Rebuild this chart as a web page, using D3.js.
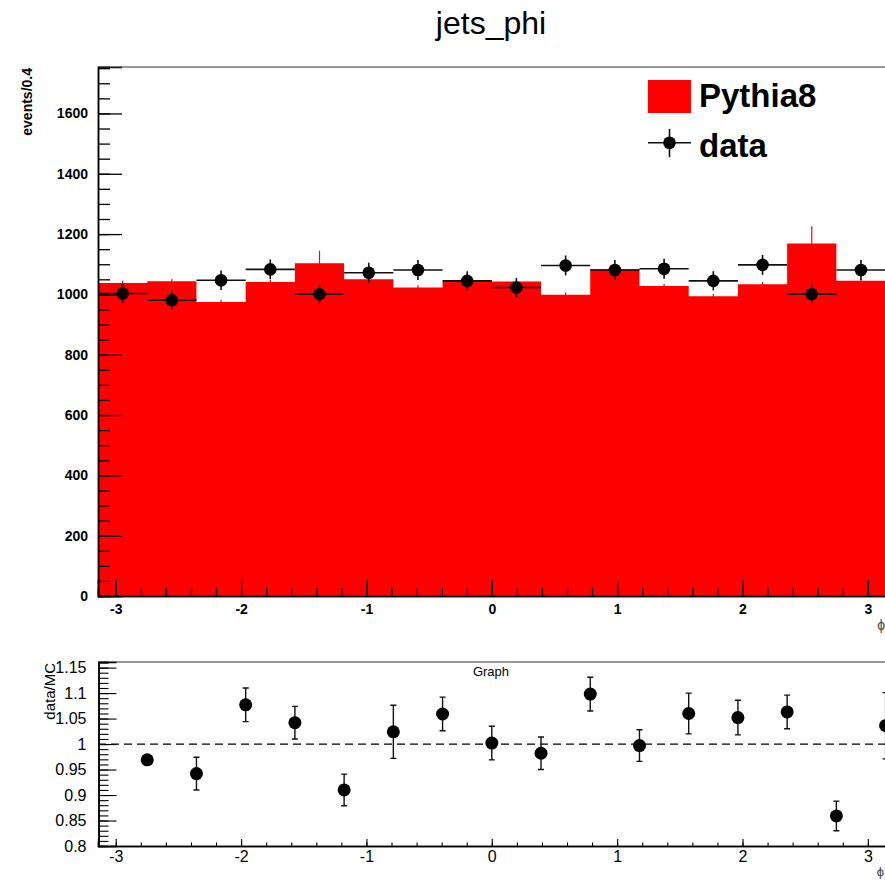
<!DOCTYPE html>
<html>
<head>
<meta charset="utf-8">
<script src="https://cdn.jsdelivr.net/npm/d3@7"></script>
<style>
  body { margin: 0; background: #fff; }
  text { font-family: "Liberation Sans", Arial, sans-serif; }
</style>
</head>
<body>
<div id="chart"></div>
<script>
// histogram binning: 16 bins over [-pi, pi]
const binLow = -Math.PI
const binHigh = Math.PI
const nBins = 16

// Pythia8 MC (red histogram) and its errors
const mcValues = [1038, 1044, 975, 1041, 1103, 1050, 1023, 1045, 1043, 999, 1083, 1028, 994, 1034, 1169, 1045]
const mcErrors = [7, 7, 7, 7, 42, 7, 7, 7, 7, 7, 7, 7, 7, 7, 57, 7]

// data points
const dataValues = [1003, 981, 1047, 1083, 1001, 1072, 1081, 1045, 1023, 1096, 1081, 1085, 1045, 1098, 1001, 1081]
const dataErrors = [32, 31, 32, 33, 32, 33, 33, 32, 32, 33, 33, 33, 32, 33, 32, 33]

// data/MC ratio graph
const ratioValues = [0.969, 0.942, 1.077, 1.042, 0.910, 1.024, 1.059, 1.002, 0.982, 1.098, 0.997, 1.060, 1.052, 1.063, 0.859, 1.036]
const ratioErrors = [0.004, 0.032, 0.033, 0.032, 0.031, 0.052, 0.033, 0.033, 0.032, 0.033, 0.031, 0.040, 0.034, 0.033, 0.029, 0.065]

// tick labels
const xMajorTicks = [-3, -2, -1, 0, 1, 2, 3]
const yMainMajorTicks = [0, 200, 400, 600, 800, 1000, 1200, 1400, 1600]
const yRatioMajorTicks = [0.8, 0.85, 0.9, 0.95, 1, 1.05, 1.1, 1.15]
const legendLabels = ['Pythia8', 'data']

const width = 885, height = 881
const svg = d3.select('#chart').append('svg')
    .attr('width', width)
    .attr('height', height)

const binWidth = (binHigh - binLow) / nBins
const bins = mcValues.map((v, i) => ({
    lo: binLow + i * binWidth,
    hi: binLow + (i + 1) * binWidth,
    mc: v, mcErr: mcErrors[i],
    data: dataValues[i], dataErr: dataErrors[i],
    ratio: ratioValues[i], ratioErr: ratioErrors[i]
}))

const x = d3.scaleLinear().domain([binLow, binHigh]).range([98, 885.6])
const y = d3.scaleLinear().domain([0, 1754]).range([596, 67])
const yR = d3.scaleLinear().domain([0.8, 1.161]).range([846, 662])

// ROOT style labels: plain hyphen minus
const intFmt = d => String(d)
const decFmt = d => String(+d.toFixed(2))

// title
svg.append('text')
    .attr('x', 491).attr('y', 34)
    .attr('text-anchor', 'middle')
    .attr('font-size', 32)
    .text('jets_phi')

// ---------- main panel ----------
const main = svg.append('g')

// MC histogram as one step area (no seams between bins)
const stepPts = bins.map(d => [d.lo, d.mc]).concat([[binHigh, bins[bins.length - 1].mc]])
const histArea = d3.area()
    .x(d => x(d[0]))
    .y0(y(0))
    .y1(d => y(d[1]))
    .curve(d3.curveStepAfter)
main.append('path')
    .datum(stepPts)
    .attr('d', histArea)
    .attr('fill', '#ff0000')

// MC error bars
main.selectAll('line.mcerr')
    .data(bins).enter()
    .append('line')
    .attr('x1', d => x((d.lo + d.hi) / 2))
    .attr('x2', d => x((d.lo + d.hi) / 2))
    .attr('y1', d => y(d.mc - d.mcErr))
    .attr('y2', d => y(d.mc + d.mcErr))
    .attr('stroke', '#ff0000')
    .attr('stroke-width', 1.2)

// main axes, ticks point inward
const yMainMinor = d3.range(0, 1751, 50)
main.append('g')
    .attr('transform', 'translate(98,0)')
    .call(d3.axisLeft(y).tickValues(yMainMinor).tickSize(-12).tickFormat(''))
main.append('g')
    .attr('transform', 'translate(98,0)')
    .call(d3.axisLeft(y).tickValues(yMainMajorTicks).tickSize(-24).tickFormat(intFmt))
    .call(g => g.selectAll('text').attr('font-size', 14).attr('font-weight', 'bold').attr('x', -10))

const xMinor = d3.range(-30, 31, 2).map(v => v / 10)
main.append('g')
    .attr('transform', 'translate(0,596)')
    .call(d3.axisBottom(x).tickValues(xMinor).tickSize(-8).tickFormat(''))
main.append('g')
    .attr('transform', 'translate(0,596)')
    .call(d3.axisBottom(x).tickValues(xMajorTicks).tickSize(-16).tickFormat(intFmt))
    .call(g => g.selectAll('text').attr('font-size', 14).attr('font-weight', 'bold').attr('y', 8).attr('dy', '0.71em'))

main.selectAll('.domain').attr('stroke', '#000').attr('stroke-width', 1.5)
main.selectAll('.tick line').attr('stroke', '#000').attr('stroke-width', 1.3)
main.selectAll('.tick text').attr('fill', '#000').attr('font-family', '"Liberation Sans", Arial, sans-serif')

// frame top
main.append('line')
    .attr('x1', 98).attr('x2', width).attr('y1', 67).attr('y2', 67)
    .attr('stroke', '#333').attr('stroke-width', 1.2)

// data points with errors
const dataG = main.append('g')
dataG.selectAll('line.dx')
    .data(bins).enter()
    .append('line')
    .attr('x1', d => x(d.lo)).attr('x2', d => x(d.hi))
    .attr('y1', d => y(d.data)).attr('y2', d => y(d.data))
    .attr('stroke', '#111').attr('stroke-width', 1.6)
dataG.selectAll('line.dy')
    .data(bins).enter()
    .append('line')
    .attr('x1', d => x((d.lo + d.hi) / 2)).attr('x2', d => x((d.lo + d.hi) / 2))
    .attr('y1', d => y(d.data - d.dataErr)).attr('y2', d => y(d.data + d.dataErr))
    .attr('stroke', '#111').attr('stroke-width', 1.6)
dataG.selectAll('circle')
    .data(bins).enter()
    .append('circle')
    .attr('cx', d => x((d.lo + d.hi) / 2))
    .attr('cy', d => y(d.data))
    .attr('r', 6.3)
    .attr('fill', '#000')

// axis titles
svg.append('text')
    .attr('transform', 'translate(32,68) rotate(-90)')
    .attr('text-anchor', 'end')
    .attr('font-size', 14)
    .attr('font-weight', 'bold')
    .text('events/0.4')
svg.append('text')
    .attr('x', 885).attr('y', 630)
    .attr('text-anchor', 'end')
    .attr('font-size', 14)
    .attr('fill', '#444')
    .text('\u03d5')

// legend
const legend = svg.append('g')
legend.append('rect')
    .attr('x', 648).attr('y', 80).attr('width', 43).attr('height', 33)
    .attr('fill', '#ff0000')
legend.append('line')
    .attr('x1', 648).attr('x2', 691).attr('y1', 142.7).attr('y2', 142.7)
    .attr('stroke', '#111').attr('stroke-width', 1.6)
legend.append('line')
    .attr('x1', 669.5).attr('x2', 669.5).attr('y1', 129).attr('y2', 157)
    .attr('stroke', '#111').attr('stroke-width', 1.6)
legend.append('circle')
    .attr('cx', 669.5).attr('cy', 142.7).attr('r', 6.3).attr('fill', '#000')
legend.selectAll('text')
    .data(legendLabels).enter()
    .append('text')
    .attr('x', 699)
    .attr('y', (d, i) => 107 + i * 49.5)
    .attr('font-size', 33)
    .attr('font-weight', 'bold')
    .text(d => d)

// ---------- ratio panel ----------
const rp = svg.append('g')

rp.append('line')
    .attr('x1', 98).attr('x2', width).attr('y1', 662).attr('y2', 662)
    .attr('stroke', '#333').attr('stroke-width', 1.2)

const yRatioMinor = d3.range(80, 117, 1).map(v => v / 100)
rp.append('g')
    .attr('transform', 'translate(98.5,0)')
    .call(d3.axisLeft(yR).tickValues(yRatioMinor).tickSize(-10).tickFormat(''))
rp.append('g')
    .attr('transform', 'translate(98.5,0)')
    .call(d3.axisLeft(yR).tickValues(yRatioMajorTicks).tickSize(-18).tickFormat(decFmt))
    .call(g => g.selectAll('text').attr('font-size', 16).attr('x', -12))

rp.append('g')
    .attr('transform', 'translate(0,846)')
    .call(d3.axisBottom(x).tickValues(xMinor).tickSize(-3.5).tickFormat(''))
rp.append('g')
    .attr('transform', 'translate(0,846)')
    .call(d3.axisBottom(x).tickValues(xMajorTicks).tickSize(-7).tickFormat(intFmt))
    .call(g => g.selectAll('text').attr('font-size', 16).attr('y', 5).attr('dy', '0.71em'))

rp.selectAll('.domain').attr('stroke', '#000').attr('stroke-width', 1.5)
rp.selectAll('.tick line').attr('stroke', '#000').attr('stroke-width', 1.1)
rp.selectAll('.tick text').attr('fill', '#000').attr('font-family', '"Liberation Sans", Arial, sans-serif')

// reference line at 1
rp.append('line')
    .attr('x1', x(binLow)).attr('x2', width)
    .attr('y1', yR(1)).attr('y2', yR(1))
    .attr('stroke', '#000').attr('stroke-width', 1.2)
    .attr('stroke-dasharray', '8,5')

// ratio points with capped errors
const rG = rp.append('g')
const cap = 3
rG.selectAll('path.err')
    .data(bins).enter()
    .append('path')
    .attr('d', d => {
        const cx = x(d.hi), t = yR(d.ratio + d.ratioErr), b = yR(d.ratio - d.ratioErr)
        return `M${cx},${t}V${b}M${cx - cap},${t}H${cx + cap}M${cx - cap},${b}H${cx + cap}`
    })
    .attr('stroke', '#111').attr('stroke-width', 1.4).attr('fill', 'none')
rG.selectAll('circle')
    .data(bins).enter()
    .append('circle')
    .attr('cx', d => x(d.hi))
    .attr('cy', d => yR(d.ratio))
    .attr('r', 6.5)
    .attr('fill', '#000')

rp.append('text')
    .attr('x', 491).attr('y', 676)
    .attr('text-anchor', 'middle')
    .attr('font-size', 13)
    .text('Graph')

svg.append('text')
    .attr('transform', 'translate(55,663) rotate(-90)')
    .attr('text-anchor', 'end')
    .attr('font-size', 15)
    .text('data/MC')
svg.append('text')
    .attr('x', 884).attr('y', 876)
    .attr('text-anchor', 'end')
    .attr('font-size', 13)
    .attr('fill', '#444')
    .text('\u03d5')
</script>
</body>
</html>
